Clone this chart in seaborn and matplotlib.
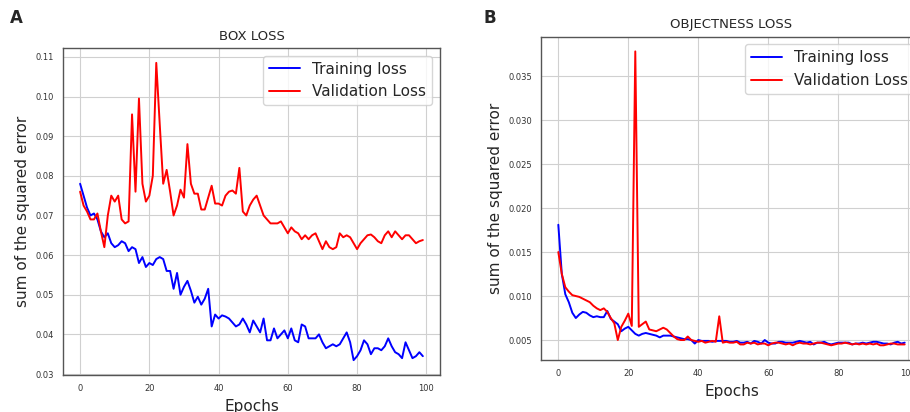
import numpy as np
import matplotlib
matplotlib.use("Agg")
import matplotlib.pyplot as plt
import seaborn as sns

# epochs 0..99
epochs = np.arange(100)

# BOX LOSS
box_train = [0.078, 0.075, 0.072, 0.070, 0.0705, 0.069, 0.066, 0.0645, 0.0655, 0.063,
             0.062, 0.0625, 0.0635, 0.063, 0.061, 0.062, 0.0615, 0.058, 0.0595, 0.057,
             0.058, 0.0575, 0.059, 0.0595, 0.059, 0.056, 0.056, 0.0515, 0.0555, 0.050,
             0.052, 0.0535, 0.051, 0.048, 0.0495, 0.0475, 0.049, 0.0515, 0.042, 0.045,
             0.044, 0.0448, 0.0445, 0.044, 0.043, 0.042, 0.0425, 0.044, 0.0425, 0.0405,
             0.0435, 0.042, 0.0405, 0.044, 0.0385, 0.0385, 0.0415, 0.039, 0.040, 0.041,
             0.039, 0.0415, 0.0385, 0.038, 0.0425, 0.042, 0.039, 0.039, 0.039, 0.040,
             0.038, 0.0365, 0.037, 0.0375, 0.037, 0.0375, 0.039, 0.0405, 0.038, 0.0335,
             0.0345, 0.036, 0.0385, 0.0375, 0.035, 0.0365, 0.0365, 0.036, 0.037, 0.039,
             0.037, 0.0355, 0.035, 0.034, 0.038, 0.036, 0.034, 0.0345, 0.0355, 0.0345]
box_val = [0.076, 0.0725, 0.071, 0.069, 0.069, 0.0705, 0.066, 0.062, 0.070, 0.075,
           0.0735, 0.075, 0.069, 0.068, 0.0685, 0.0955, 0.076, 0.0995, 0.078, 0.0735,
           0.075, 0.080, 0.1085, 0.093, 0.078, 0.0815, 0.076, 0.070, 0.0725, 0.0765,
           0.0745, 0.088, 0.078, 0.0755, 0.0755, 0.0715, 0.0715, 0.0745, 0.0775, 0.073,
           0.073, 0.0725, 0.075, 0.076, 0.0763, 0.0755, 0.082, 0.071, 0.070, 0.0725,
           0.074, 0.075, 0.0725, 0.070, 0.069, 0.068, 0.068, 0.068, 0.0685, 0.067,
           0.0655, 0.067, 0.066, 0.0655, 0.064, 0.065, 0.064, 0.065, 0.0655, 0.0635,
           0.0615, 0.0635, 0.062, 0.0615, 0.062, 0.0655, 0.0645, 0.065, 0.0645, 0.063,
           0.0615, 0.063, 0.064, 0.065, 0.0652, 0.0645, 0.0635, 0.063, 0.065, 0.066,
           0.0645, 0.066, 0.065, 0.064, 0.065, 0.065, 0.064, 0.063, 0.0635, 0.0638]

# OBJECTNESS LOSS
obj_train = [0.0181, 0.0125, 0.0102, 0.0093, 0.0081, 0.0075, 0.0079, 0.0082, 0.0081, 0.0078,
             0.0076, 0.0077, 0.0076, 0.0076, 0.0083, 0.0074, 0.0071, 0.0068, 0.0060, 0.0063,
             0.0065, 0.0061, 0.0057, 0.0055, 0.0057, 0.0058, 0.0057, 0.0056, 0.0055, 0.0053,
             0.0055, 0.0055, 0.0055, 0.0054, 0.0053, 0.0052, 0.0051, 0.0051, 0.0050, 0.0046,
             0.0050, 0.0049, 0.0049, 0.0049, 0.0048, 0.0049, 0.0049, 0.0049, 0.0049, 0.0048,
             0.0048, 0.0049, 0.0047, 0.0047, 0.0048, 0.0046, 0.0049, 0.0048, 0.0046, 0.0050,
             0.0047, 0.0046, 0.0046, 0.0048, 0.0048, 0.0047, 0.0047, 0.0047, 0.0048, 0.0049,
             0.0048, 0.0047, 0.0048, 0.0045, 0.0047, 0.0047, 0.0048, 0.0046, 0.0045, 0.0046,
             0.0047, 0.0047, 0.0047, 0.0047, 0.0045, 0.0046, 0.0046, 0.0047, 0.0046, 0.0047,
             0.0048, 0.0048, 0.0047, 0.0046, 0.0046, 0.0045, 0.0047, 0.0048, 0.0046, 0.0047]
obj_val = [0.0150, 0.0125, 0.0110, 0.0105, 0.0101, 0.0100, 0.0099, 0.0097, 0.0095, 0.0093,
           0.0089, 0.0086, 0.0084, 0.0086, 0.0082, 0.0075, 0.0069, 0.0050, 0.0065, 0.0072,
           0.0080, 0.0066, 0.0378, 0.0065, 0.0068, 0.0071, 0.0062, 0.0061, 0.0060, 0.0062,
           0.0064, 0.0062, 0.0058, 0.0054, 0.0051, 0.0050, 0.0050, 0.0054, 0.0050, 0.0049,
           0.0048, 0.0049, 0.0047, 0.0048, 0.0049, 0.0048, 0.0077, 0.0047, 0.0048, 0.0047,
           0.0047, 0.0048, 0.0045, 0.0045, 0.0047, 0.0046, 0.0047, 0.0045, 0.0046, 0.0046,
           0.0044, 0.0046, 0.0047, 0.0047, 0.0046, 0.0045, 0.0046, 0.0044, 0.0046, 0.0047,
           0.0046, 0.0046, 0.0045, 0.0046, 0.0047, 0.0047, 0.0046, 0.0045, 0.0044, 0.0045,
           0.0046, 0.0046, 0.0047, 0.0046, 0.0045, 0.0046, 0.0045, 0.0046, 0.0045, 0.0046,
           0.0045, 0.0046, 0.0044, 0.0044, 0.0045, 0.0046, 0.0046, 0.0045, 0.0045, 0.0045]

sns.set_style("whitegrid", {"axes.edgecolor": "#555555", "grid.color": "#d0d0d0"})
plt.rcParams['font.family'] = ['DejaVu Sans']

fig = plt.figure(figsize=(9.1, 4.12), dpi=100)
axA = fig.add_axes([0.0692, 0.0898, 0.4143, 0.7937])
axB = fig.add_axes([0.5945, 0.1262, 0.4187, 0.7847])

panels = [(axA, box_train, box_val, "BOX LOSS"),
          (axB, obj_train, obj_val, "OBJECTNESS LOSS")]

for ax, tr, va, title in panels:
    sns.lineplot(x=epochs, y=tr, color="blue", linewidth=1.4, label="Training loss", ax=ax)
    sns.lineplot(x=epochs, y=va, color="red", linewidth=1.4, label="Validation Loss", ax=ax)
    ax.set_title(title, fontsize=9.5)
    ax.set_xlabel("Epochs", fontsize=11)
    ax.set_ylabel("sum of the squared error", fontsize=11)
    ax.tick_params(labelsize=6, length=3, colors="#333333")
    ax.set_xticks([0, 20, 40, 60, 80, 100])
    for s in ax.spines.values():
        s.set_linewidth(1.0)
    ax.legend(loc="upper right", fontsize=11, frameon=True)

axB.set_yticks([0.005, 0.010, 0.015, 0.020, 0.025, 0.030, 0.035])

fig.text(0.011, 0.956, "A", fontsize=12, fontweight="bold", va="center", ha="left")
fig.text(0.531, 0.956, "B", fontsize=12, fontweight="bold", va="center", ha="left")

fig.savefig("out.png", dpi=100)
